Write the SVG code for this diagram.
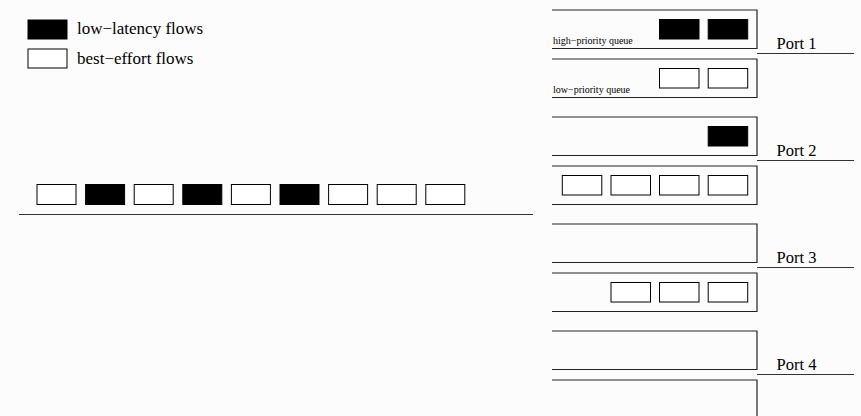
<svg xmlns="http://www.w3.org/2000/svg" width="861" height="416" viewBox="0 0 861 416">
<style>
.pk{stroke:#000;stroke-width:1}
.lat{fill:#000}
.be{fill:#fff}
.q{fill:none;stroke:#222;stroke-width:1.2}
.ln{stroke:#333;stroke-width:1.2}
.t{font-family:"Liberation Serif","Times New Roman",serif;fill:#000}
.big{font-size:17px}
.port{font-size:16.5px}
.small{font-size:10px}
</style>
<rect width="861" height="416" fill="#fcfcfc"/>
<g id="legend">
<rect class="pk lat" x="28" y="20" width="39" height="19"/>
<text class="t big" x="77" y="34">low−latency flows</text>
<rect class="pk be" x="28" y="49" width="39" height="19"/>
<text class="t big" x="77" y="64">best−effort flows</text>
</g>
<g id="input-queue">
<rect class="pk be" x="37" y="184.5" width="39" height="20"/>
<rect class="pk lat" x="85.6" y="184.5" width="39" height="20"/>
<rect class="pk be" x="134.2" y="184.5" width="39" height="20"/>
<rect class="pk lat" x="182.8" y="184.5" width="39" height="20"/>
<rect class="pk be" x="231.4" y="184.5" width="39" height="20"/>
<rect class="pk lat" x="280" y="184.5" width="39" height="20"/>
<rect class="pk be" x="328.6" y="184.5" width="39" height="20"/>
<rect class="pk be" x="377.2" y="184.5" width="39" height="20"/>
<rect class="pk be" x="425.8" y="184.5" width="39" height="20"/>
</g>
<g id="port1">
<path class="q" d="M552,10 H757 V48.5 H552"/>
<text class="t small" x="553" y="43.5">high−priority queue</text>
<rect class="pk lat" x="659.5" y="19.5" width="39.5" height="19.5"/>
<rect class="pk lat" x="708.2" y="19.5" width="39.5" height="19.5"/>
<path class="q" d="M552,59 H757 V97.5 H552"/>
<text class="t small" x="553" y="92.5">low−priority queue</text>
<rect class="pk be" x="659.5" y="68.5" width="39.5" height="19.5"/>
<rect class="pk be" x="708.2" y="68.5" width="39.5" height="19.5"/>
<text class="t port" x="776.5" y="49">Port 1</text>
</g>
<g id="port2">
<path class="q" d="M552,117 H757 V155.5 H552"/>
<rect class="pk lat" x="708.2" y="126.5" width="39.5" height="19.5"/>
<path class="q" d="M552,166 H757 V204.5 H552"/>
<rect class="pk be" x="562.3" y="175.5" width="39.5" height="19.5"/>
<rect class="pk be" x="611" y="175.5" width="39.5" height="19.5"/>
<rect class="pk be" x="659.5" y="175.5" width="39.5" height="19.5"/>
<rect class="pk be" x="708.2" y="175.5" width="39.5" height="19.5"/>
<text class="t port" x="776.5" y="156">Port 2</text>
</g>
<g id="port3">
<path class="q" d="M552,224 H757 V262.5 H552"/>
<path class="q" d="M552,273 H757 V311.5 H552"/>
<rect class="pk be" x="611" y="282.5" width="39.5" height="19.5"/>
<rect class="pk be" x="659.5" y="282.5" width="39.5" height="19.5"/>
<rect class="pk be" x="708.2" y="282.5" width="39.5" height="19.5"/>
<text class="t port" x="776.5" y="263">Port 3</text>
</g>
<g id="port4">
<path class="q" d="M552,331 H757 V369.5 H552"/>
<path class="q" d="M552,380 H757 V418"/>
<text class="t port" x="776.5" y="370">Port 4</text>
</g>
<g id="connectors">
<line class="ln" x1="19" y1="214.5" x2="533" y2="214.5"/>
<line class="ln" x1="757" y1="53.5" x2="854" y2="53.5"/>
<line class="ln" x1="757" y1="160.5" x2="854" y2="160.5"/>
<line class="ln" x1="757" y1="267.5" x2="854" y2="267.5"/>
<line class="ln" x1="757" y1="374.5" x2="854" y2="374.5"/>
</g>
</svg>
